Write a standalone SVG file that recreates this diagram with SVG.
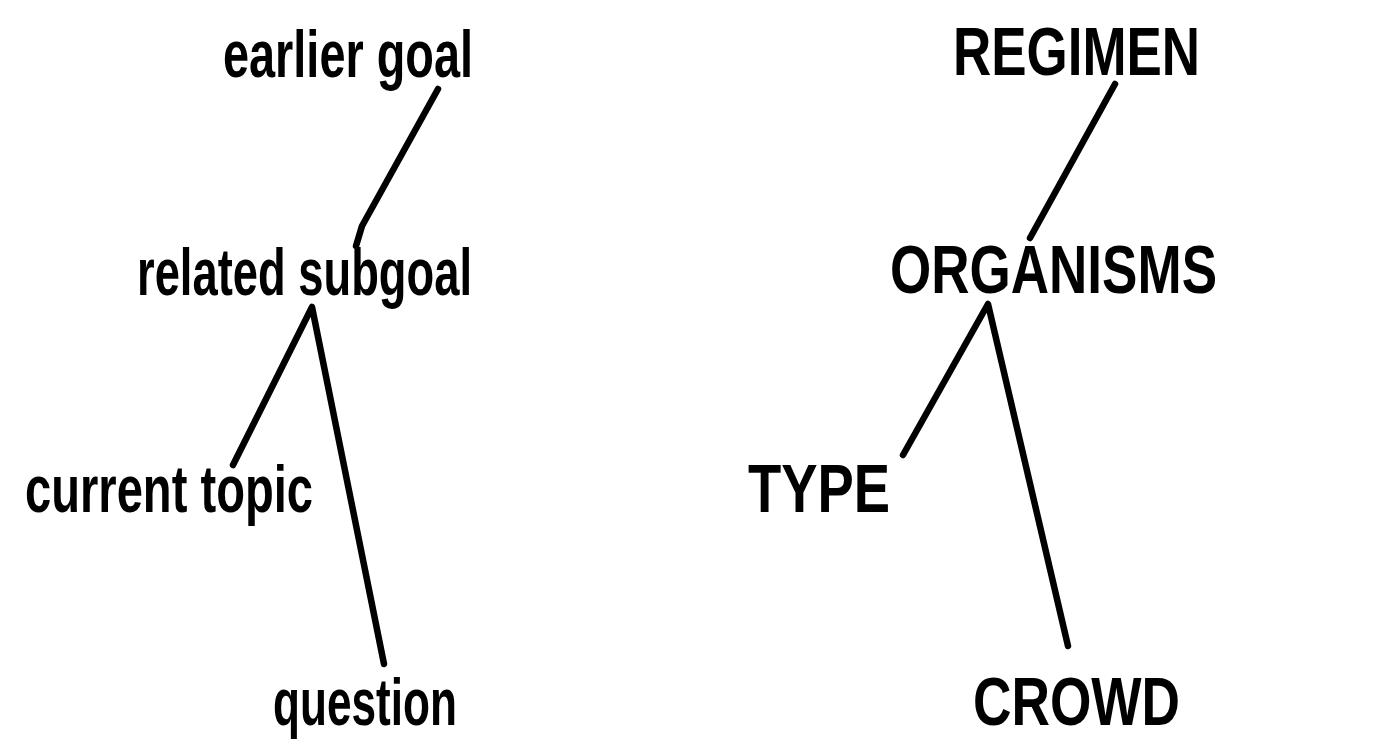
<svg xmlns="http://www.w3.org/2000/svg" width="1379" height="745" viewBox="0 0 1379 745">
<style>
text{font-family:"Liberation Sans","DejaVu Sans",sans-serif;font-weight:bold;fill:#000}
.lc{font-size:66px}
.uc{font-size:68px}
.c{fill:none;stroke:#000;stroke-width:6.5;stroke-linecap:round;stroke-linejoin:round}
</style>
<rect width="1379" height="745" fill="#fff"/>
<g id="earlier-goal"><text class="lc" x="223" y="77" textLength="250" lengthAdjust="spacingAndGlyphs">earlier goal</text></g>
<g id="related-subgoal"><text class="lc" x="137" y="295" textLength="335" lengthAdjust="spacingAndGlyphs">related subgoal</text></g>
<g id="current-topic"><text class="lc" x="25" y="512" textLength="288" lengthAdjust="spacingAndGlyphs">current topic</text></g>
<g id="question"><text class="lc" x="273" y="725" textLength="184" lengthAdjust="spacingAndGlyphs">question</text></g>
<g id="regimen"><text class="uc" x="953" y="75" textLength="247" lengthAdjust="spacingAndGlyphs">REGIMEN</text></g>
<g id="organisms"><text class="uc" x="890" y="293" textLength="327" lengthAdjust="spacingAndGlyphs">ORGANISMS</text></g>
<g id="type"><text class="uc" x="748" y="512" textLength="142" lengthAdjust="spacingAndGlyphs">TYPE</text></g>
<g id="crowd"><text class="uc" x="973" y="725" textLength="207" lengthAdjust="spacingAndGlyphs">CROWD</text></g>
<g id="connectors">
<polyline class="c" points="438,89 362,226 356,246"/>
<polyline class="c" points="233,465 312,307 384,664"/>
<line class="c" x1="1115" y1="84" x2="1030" y2="238"/>
<polyline class="c" points="903,455 988,304 1068,646"/>
</g>
</svg>
